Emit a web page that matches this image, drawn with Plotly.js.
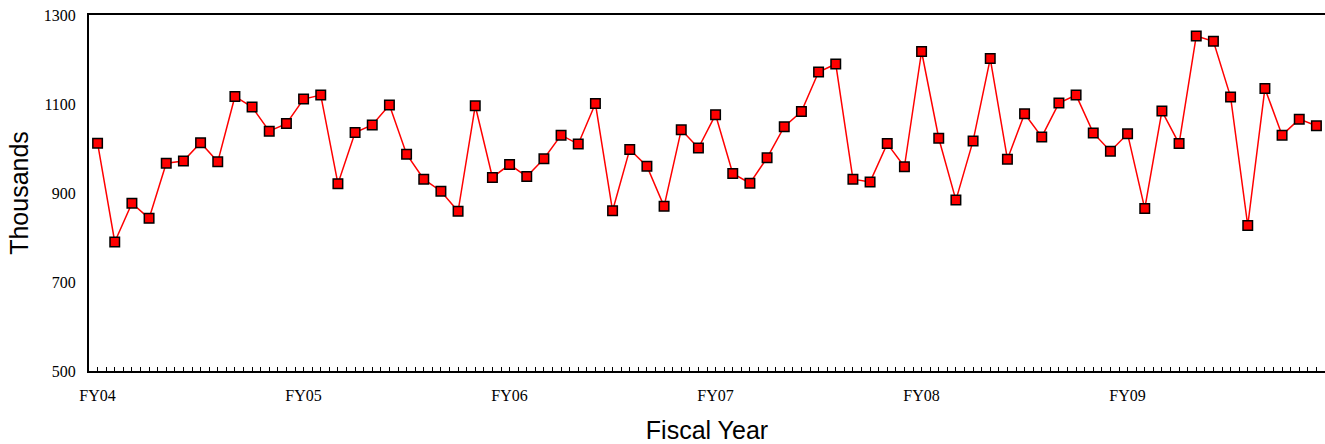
<!DOCTYPE html>
<html>
<head>
<meta charset="utf-8">
<script src="https://cdn.plot.ly/plotly-3.0.1.min.js"></script>
<style>html,body{margin:0;padding:0;background:#fff;}#chart{width:1325px;height:444px;}</style>
</head>
<body>
<div id="chart"></div>
<script>
// Monthly values (thousands), FY04 through FY09 (12 months each)
const values = [
  1012, 790, 877, 843, 967, 972, 1013, 970, 1117, 1093, 1039, 1056,
  1111, 1120, 921, 1036, 1053, 1098, 987, 931, 904, 859, 1096, 935,
  964, 937, 977, 1030, 1010, 1101, 860, 998, 960, 870, 1042, 1001,
  1076, 944, 922, 979, 1049, 1083, 1172, 1190, 931, 925, 1011, 959,
  1218, 1023, 884, 1017, 1202, 976, 1078, 1026, 1102, 1120, 1035, 994,
  1033, 865, 1084, 1011, 1253, 1241, 1116, 827, 1135, 1030, 1066, 1051
];
const fiscalYears = ["FY04", "FY05", "FY06", "FY07", "FY08", "FY09"];
const monthsPerYear = 12;
const yTicks = [500, 700, 900, 1100, 1300];

const monthIndex = values.map((v, i) => i);
const yearTickPos = fiscalYears.map((fy, i) => i * monthsPerYear);

const trace = {
  x: monthIndex,
  y: values,
  type: 'scatter',
  mode: 'lines+markers',
  line: {color: '#ff0000', width: 1.5},
  marker: {symbol: 'square', size: 9.5, color: '#ff0000', line: {color: '#000000', width: 1.5}},
  hoverinfo: 'y'
};

const layout = {
  width: 1325,
  height: 444,
  margin: {l: 89, r: 0, t: 15, b: 73, pad: 0},
  paper_bgcolor: '#ffffff',
  plot_bgcolor: '#ffffff',
  showlegend: false,
  xaxis: {
    range: [-0.5, 71.5],
    tickmode: 'array',
    tickvals: yearTickPos,
    ticktext: fiscalYears,
    ticks: 'inside',
    ticklen: 4,
    tickwidth: 1,
    tickcolor: '#000',
    ticklabelstandoff: 9,
    minor: {tickmode: 'linear', tick0: 0, dtick: 0.5, ticks: 'inside', ticklen: 4, tickwidth: 1, tickcolor: '#000', showgrid: false},
    showline: true,
    linecolor: '#000',
    linewidth: 2,
    mirror: true,
    showgrid: false,
    zeroline: false,
    tickfont: {family: 'Liberation Serif, Times New Roman, serif', size: 16, color: '#000'},
    title: {text: 'Fiscal Year', font: {family: 'Liberation Sans, Arial, sans-serif', size: 25, color: '#000'}, standoff: 27}
  },
  yaxis: {
    range: [500, 1300],
    automargin: true,
    tickmode: 'array',
    tickvals: yTicks,
    ticktext: yTicks.map(String),
    ticks: '',
    ticklabelstandoff: 8,
    showline: true,
    linecolor: '#000',
    linewidth: 2,
    showgrid: false,
    zeroline: false,
    tickfont: {family: 'Liberation Serif, Times New Roman, serif', size: 16, color: '#000'},
    title: {text: 'Thousands', font: {family: 'Liberation Sans, Arial, sans-serif', size: 25, color: '#000'}, standoff: 8}
  }
};

Plotly.newPlot('chart', [trace], layout, {displayModeBar: false, staticPlot: true});
</script>
</body>
</html>
